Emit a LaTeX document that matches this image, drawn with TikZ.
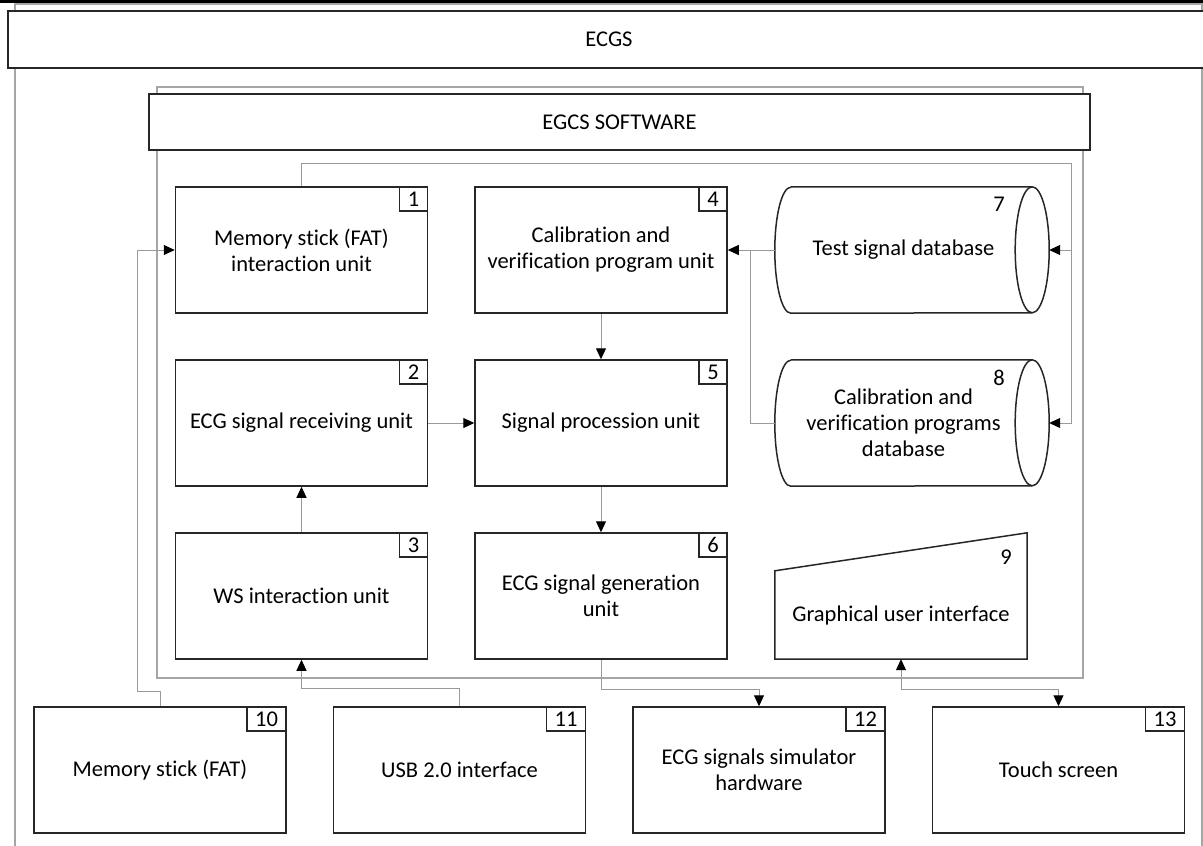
\documentclass[tikz,border=0pt]{standalone}
\usepackage{fontspec}
\setmainfont{Carlito}[Ligatures={NoCommon}]
\usetikzlibrary{arrows.meta,calc,positioning}

\definecolor{frameGray}{HTML}{A6A6A6}
\definecolor{linkGray}{HTML}{9A9A9A}
\definecolor{boxBlack}{HTML}{262626}

\tikzset{
  unit/.style={draw=boxBlack, line width=1.5pt, minimum width=252pt, minimum height=126pt, align=center, inner sep=0pt},
  numbox/.style={draw=boxBlack, line width=1.5pt, minimum width=28pt, minimum height=24pt, inner xsep=8pt, inner ysep=0pt, anchor=north east},
  titlebox/.style={draw=boxBlack, line width=1.5pt, fill=white},
  dbbody/.style={minimum width=257pt, minimum height=126pt, align=center, inner sep=0pt},
  cframe/.style={draw=frameGray, line width=1.8pt},
  link/.style={draw=linkGray, line width=1pt},
  arr/.style={-{Triangle[length=11pt,width=10pt,color=black]}},
  arrboth/.style={{Triangle[length=11pt,width=10pt,color=black]}-{Triangle[length=11pt,width=10pt,color=black]}},
}

\begin{document}
\begin{tikzpicture}[x=1pt,y=-1pt,font=\fontsize{22.5}{26}\selectfont]
  \clip (0,0) rectangle (1203,846);
  % outer container
  \draw[cframe] (15,4) rectangle (1202,870);
  \node[titlebox, minimum width=1202pt, minimum height=57pt] (ecgs) at (609,39.5) {ECGS};
  \draw[black, line width=3pt] (0,1.5) -- (1203,1.5);

  % software container
  \draw[cframe] (157,87) rectangle (1083,678);
  \node[titlebox, minimum width=941pt, minimum height=56pt] (soft) at (619.5,122) {EGCS SOFTWARE};

  % software units
  \node[unit] (mem) at (301.5,250) {Memory stick (FAT)\\interaction unit};
  \node[unit] (recv) at (301.5,423) {ECG signal receiving unit};
  \node[unit] (ws) at (301.5,596) {WS interaction unit};
  \node[unit] (calib) at (601,250) {Calibration and\\verification program unit};
  \node[unit] (proc) at (601,423) {Signal procession unit};
  \node[unit] (gen) at (601,596) {ECG signal generation\\unit};

  % databases
  \node[dbbody] (testdb) at (903.5,250) {Test signal database};
  \node[dbbody] (progdb) at (903.5,423) {Calibration and\\verification programs\\database};
  \foreach \db in {testdb,progdb} {
    \draw[boxBlack, line width=1.5pt] ([xshift=16pt]\db.north west) -- (\db.north east)
      arc[start angle=90, end angle=-90, x radius=17pt, y radius=63pt]
      -- ([xshift=16pt]\db.south west)
      arc[start angle=270, end angle=90, x radius=16pt, y radius=63pt];
    \draw[boxBlack, line width=1.5pt] (\db.north east)
      arc[start angle=90, end angle=270, x radius=17pt, y radius=63pt];
  }
  \node (n7) at (999,204) {7};
  \node (n8) at (999,378) {8};

  % manual input
  \node[minimum width=252pt, minimum height=88pt, inner sep=0pt] (gui) at (901,615) {Graphical user interface};
  \draw[boxBlack, line width=1.5pt] (gui.north west) -- (gui.south west) -- (gui.south east)
    -- ([yshift=38pt]gui.north east) -- cycle;
  \node (n9) at (1006,557) {9};

  % hardware
  \node[unit] (stick) at (160,770) {Memory stick (FAT)};
  \node[unit] (usb) at (459.5,770) {USB 2.0 interface};
  \node[unit] (sim) at (759,770) {ECG signals simulator\\hardware};
  \node[unit] (touch) at (1058.5,770) {Touch screen};

  \foreach \b/\n in {mem/1,recv/2,ws/3,calib/4,proc/5,gen/6,stick/10,usb/11,sim/12,touch/13}
    \node[numbox] (num\n) at (\b.north east) {\n};

  % connectors
  \draw[link,arr] (calib.south) -- (proc.north);
  \draw[link,arr] (proc.south) -- (gen.north);
  \draw[link,arr] (recv.east) -- (proc.west);
  \draw[link,arr] (ws.north) -- (recv.south);
  \draw[link,arr] (testdb.west) -- (calib.east);
  \draw[link] (progdb.west) -| ([xshift=-24pt]testdb.west);
  \coordinate (bus) at (1071,163);
  \draw[link] (mem.north) |- (bus);
  \draw[link,arr] (bus) |- ([xshift=17pt]progdb.east);
  \draw[link,arr] (bus |- testdb.east) -- ([xshift=17pt]testdb.east);
  \draw[link,arr] (stick.north) -- ++(0,-15) -| ([xshift=-37pt]mem.west) -- (mem.west);
  \draw[link,arr] (usb.north) -- ++(0,-18) -| (ws.south);
  \draw[link,arr] (gen.south) -- ++(0,30) -| (sim.north);
  \draw[link,arrboth] (gui.south) -- ++(0,30) -| (touch.north);
\end{tikzpicture}
\end{document}
